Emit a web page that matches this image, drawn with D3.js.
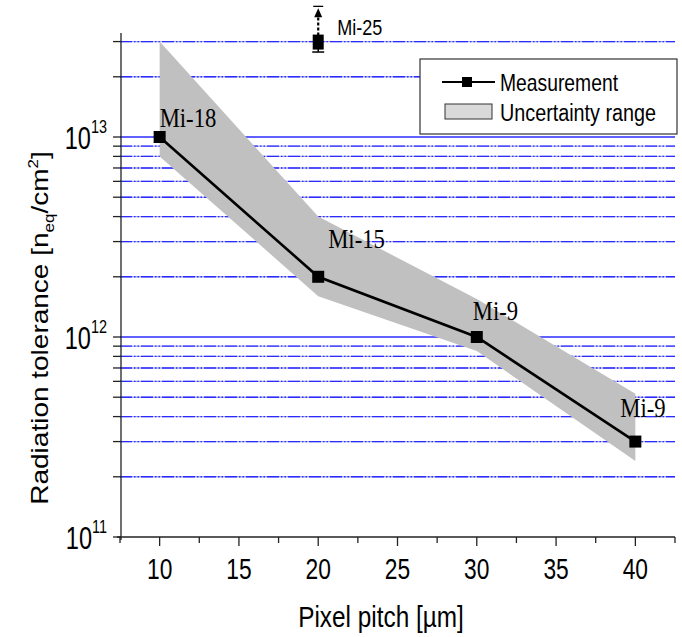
<!DOCTYPE html>
<html>
<head>
<meta charset="utf-8">
<script src="https://cdn.jsdelivr.net/npm/d3@7"></script>
<style>
  html, body { margin: 0; padding: 0; background: #fff; }
  svg { display: block; }
</style>
</head>
<body>
<svg id="chart" width="682" height="637"></svg>
<script>
// ---- data ----
const pitch = [10, 20, 30, 40];
const tolerance = [1e13, 2e12, 1e12, 3e11];
const sensorLabels = ["Mi-18", "Mi-15", "Mi-9", "Mi-9"];
const bandUpper = [3e13, 4e12, 1.55e12, 5.2e11];
const bandLower = [8e12, 1.6e12, 8.5e11, 2.4e11];
const mi25Pitch = [20];
const mi25Value = [3e13];
const mi25Lower = [2.66e13];
const mi25Upper = [4.5e13];
const mi25Label = ["Mi-25"];
const xTicks = [10, 15, 20, 25, 30, 35, 40];
const xMinorTicks = [7.5, 12.5, 17.5, 22.5, 27.5, 32.5, 37.5, 42.5];
const yDecades = [1e11, 1e12, 1e13];
const yMinor = [2e11, 3e11, 4e11, 5e11, 6e11, 7e11, 8e11, 9e11,
                2e12, 3e12, 4e12, 5e12, 6e12, 7e12, 8e12, 9e12,
                2e13, 3e13];
const legendItems = ["Measurement", "Uncertainty range"];
const xTitle = "Pixel pitch [µm]";

// ---- layout ----
const svg = d3.select("#chart");
const x = d3.scaleLinear().domain([7.5, 42.5]).range([120, 675]);
const y = d3.scaleLog().domain([1e11, Math.pow(10, 13.52)]).range([537, 33]);
const sans = "'Liberation Sans', Arial, sans-serif";
const serif = "'Liberation Serif', 'Times New Roman', serif";
const gridBlue = "#2b2bff";

function sText(g, str, px, py, size, sx, opts = {}) {
  return g.append("text")
    .attr("transform", `translate(${px},${py}) scale(${sx},1)`)
    .attr("font-family", opts.family || sans)
    .attr("font-size", size)
    .attr("fill", "#000")
    .attr("text-anchor", opts.anchor || "start")
    .text(str);
}

// ---- gridlines ----
const grid = svg.append("g");
grid.selectAll("line.minor").data(yMinor).join("line")
  .attr("x1", x(7.5)).attr("x2", x(42.5))
  .attr("y1", d => y(d)).attr("y2", d => y(d))
  .attr("stroke", "#a8a8ff").attr("stroke-width", 1.4);
grid.selectAll("line.minordash").data(yMinor).join("line")
  .attr("x1", x(7.5)).attr("x2", x(42.5))
  .attr("y1", d => y(d)).attr("y2", d => y(d))
  .attr("stroke", gridBlue).attr("stroke-width", 1.4)
  .attr("stroke-dasharray", "12,2,1.5,2,1.5,2");
grid.selectAll("line.major").data(yDecades.filter(d => d > 1e11)).join("line")
  .attr("x1", x(7.5)).attr("x2", x(42.5))
  .attr("y1", d => y(d)).attr("y2", d => y(d))
  .attr("stroke", gridBlue).attr("stroke-width", 1.5);

// ---- uncertainty band ----
const area = d3.area()
  .x((d, i) => x(pitch[i]))
  .y0((d, i) => y(bandLower[i]))
  .y1((d, i) => y(bandUpper[i]));
svg.append("path").datum(pitch).attr("d", area).attr("fill", "#c0c0c0");

// ---- axes ----
const axG = svg.append("g").attr("stroke", "#222").attr("stroke-width", 1.3);
axG.append("line").attr("x1", x(7.5) - 3).attr("x2", x(42.5)).attr("y1", y(1e11)).attr("y2", y(1e11));
axG.append("line").attr("x1", x(7.5) + 1).attr("x2", x(7.5) + 1).attr("y1", y.range()[1]).attr("y2", y(1e11) + 3);
axG.selectAll("line.xt").data(xTicks).join("line")
  .attr("x1", d => x(d)).attr("x2", d => x(d)).attr("y1", y(1e11)).attr("y2", y(1e11) + 9);
axG.selectAll("line.xm").data(xMinorTicks).join("line")
  .attr("x1", d => x(d)).attr("x2", d => x(d)).attr("y1", y(1e11)).attr("y2", y(1e11) + 6);
axG.selectAll("line.yt").data(yDecades.concat(yMinor)).join("line")
  .attr("x1", x(7.5) + 1).attr("x2", x(7.5) - 7).attr("y1", d => y(d)).attr("y2", d => y(d));

// x tick labels
const xl = svg.append("g");
xTicks.forEach(t => sText(xl, String(t), x(t), y(1e11) + 42, 30, 0.76, {anchor: "middle"}));

// y tick labels 10^n
const yl = svg.append("g");
yDecades.forEach(d => {
  const e = Math.round(Math.log10(d));
  const t = yl.append("text")
    .attr("transform", `translate(${x(7.5) - 13},${y(d) + 12}) scale(0.76,1)`)
    .attr("font-family", sans).attr("font-size", 31).attr("text-anchor", "end");
  t.append("tspan").text("10");
  t.append("tspan").attr("dy", -16).attr("font-size", 19).text(String(e));
});

// axis titles
sText(svg, xTitle, 381, 627, 29, 0.84, {anchor: "middle"});
const yt = svg.append("text")
  .attr("transform", "translate(48,328) rotate(-90) scale(1,0.88)")
  .attr("font-family", sans).attr("font-size", 28).attr("text-anchor", "middle");
yt.append("tspan").text("Radiation tolerance [n");
yt.append("tspan").attr("font-size", 17).attr("dy", 7).text("eq");
yt.append("tspan").attr("dy", -7).text("/cm");
yt.append("tspan").attr("font-size", 17).attr("dy", -11).text("2");
yt.append("tspan").attr("dy", 11).text("]");

// ---- measurement line ----
const line = d3.line().x((d, i) => x(pitch[i])).y((d, i) => y(tolerance[i]));
svg.append("path").datum(pitch).attr("d", line)
  .attr("fill", "none").attr("stroke", "#000").attr("stroke-width", 2.6);
svg.selectAll("rect.m").data(pitch).join("rect")
  .attr("x", d => x(d) - 6).attr("y", (d, i) => y(tolerance[i]) - 6)
  .attr("width", 12).attr("height", 12).attr("fill", "#000");

// labels
const labOff = [[0, -10], [10, -29], [-4, -17], [-15, -25]];
sensorLabels.forEach((s, i) => {
  sText(svg, s, x(pitch[i]) + labOff[i][0], y(tolerance[i]) + labOff[i][1], 27, 0.84, {family: serif});
});

// ---- Mi-25 with error bar ----
const eg = svg.append("g");
mi25Pitch.forEach((p, i) => {
  const cx = x(p);
  eg.append("line").attr("x1", cx - 6).attr("x2", cx + 6)
    .attr("y1", y(mi25Lower[i])).attr("y2", y(mi25Lower[i])).attr("stroke", "#000").attr("stroke-width", 1.5);
  eg.append("line").attr("x1", cx).attr("x2", cx)
    .attr("y1", y(mi25Lower[i])).attr("y2", y(mi25Value[i])).attr("stroke", "#000").attr("stroke-width", 1.5);
  eg.append("line").attr("x1", cx).attr("x2", cx)
    .attr("y1", y(mi25Value[i]) - 6).attr("y2", y(mi25Upper[i]) + 10)
    .attr("stroke", "#000").attr("stroke-width", 2.2).attr("stroke-dasharray", "3,2");
  const ty = y(mi25Upper[i]);
  eg.append("path").attr("d", `M${cx},${ty + 2} L${cx - 4},${ty + 11} L${cx + 4},${ty + 11} Z`).attr("fill", "#000");
  eg.append("line").attr("x1", cx - 5).attr("x2", cx + 5).attr("y1", ty).attr("y2", ty)
    .attr("stroke", "#000").attr("stroke-width", 1.3);
  eg.append("rect").attr("x", cx - 5.5).attr("y", y(mi25Value[i]) - 7).attr("width", 11).attr("height", 15).attr("fill", "#000");
  sText(eg, mi25Label[i], cx + 19, y(mi25Value[i]) - 7, 22, 0.82);
});

// ---- legend ----
const lg = svg.append("g");
lg.append("rect").attr("x", 420).attr("y", 59).attr("width", 257).attr("height", 75)
  .attr("fill", "#fff").attr("stroke", "#333").attr("stroke-width", 1.2);
lg.append("line").attr("x1", 442).attr("x2", 495).attr("y1", 82).attr("y2", 82).attr("stroke", "#000").attr("stroke-width", 2);
lg.append("rect").attr("x", 462).attr("y", 77).attr("width", 10).attr("height", 10).attr("fill", "#000");
lg.append("rect").attr("x", 445).attr("y", 104).attr("width", 47).attr("height", 15)
  .attr("fill", "#d9d9d9").attr("stroke", "#333").attr("stroke-width", 1);
sText(lg, legendItems[0], 500, 91, 23, 0.84);
sText(lg, legendItems[1], 500, 121, 23, 0.86);
</script>
</body>
</html>
